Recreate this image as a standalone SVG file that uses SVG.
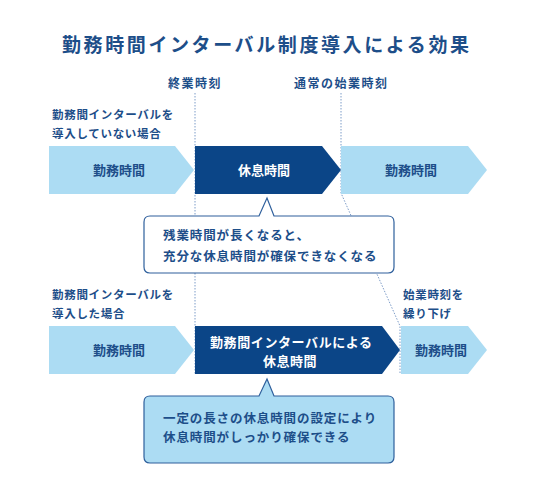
<svg xmlns="http://www.w3.org/2000/svg" width="536" height="501" viewBox="0 0 536 501">
<style>
text{font-family:"Noto Sans CJK JP","Noto Sans",sans-serif;font-weight:700}
.title{font-size:19px;letter-spacing:2.6px;fill:#1d4e89}
.lbl{font-size:12px;letter-spacing:1.5px;fill:#1d4e89}
.row{font-size:11.5px;letter-spacing:0.7px;fill:#1d4e89}
.light{fill:#acdcf3}
.dark{fill:#0b4587}
.lt{font-size:13px;fill:#1d4e89}
.dt{font-size:13px;fill:#ffffff}
.ct{font-size:12.5px;letter-spacing:0.9px;fill:#1d4e89}
.dot{fill:none;stroke:#7d9cc8;stroke-width:1;stroke-dasharray:1.5 1.5}
.call{stroke:#2e5f9c;stroke-width:1.2}
</style>
<rect width="536" height="501" fill="#ffffff"/>
<text class="title" x="62" y="52">勤務時間インターバル制度導入による効果</text>
<text class="lbl" x="168" y="88">終業時刻</text>
<text class="lbl" x="294" y="88">通常の始業時刻</text>
<g id="connectors">
<path class="dot" d="M195,93 V374"/>
<path class="dot" d="M341,93 V193 L400,326 V374"/>
</g>
<g id="label-row1">
<text class="row" x="52" y="119">勤務間インターバルを</text>
<text class="row" x="52" y="138">導入していない場合</text>
</g>
<g id="row1-work1">
<path class="light" d="M49,146 H175 L194,170 L175,194 H49 Z"/>
<text class="lt" x="93" y="175">勤務時間</text>
</g>
<g id="row1-rest">
<path class="dark" d="M195,146 H322 L341,170 L322,194 H195 Z"/>
<text class="dt" x="238" y="175">休息時間</text>
</g>
<g id="row1-work2">
<path class="light" d="M341,146 H468 L487,170 L468,194 H341 L341,170 Z"/>
<text class="lt" x="385" y="175">勤務時間</text>
</g>
<g id="callout1">
<path class="call" fill="#ffffff" d="M150,216 H259 L267,198 L274,216 H388 Q394,216 394,222 V267 Q394,273 388,273 H150 Q144,273 144,267 V222 Q144,216 150,216 Z"/>
<text class="ct" x="163" y="240">残業時間が長くなると、</text>
<text class="ct" x="163" y="261">充分な休息時間が確保できなくなる</text>
</g>
<g id="label-row2">
<text class="row" x="52" y="299">勤務間インターバルを</text>
<text class="row" x="52" y="318">導入した場合</text>
</g>
<g id="label-shift">
<text class="row" x="403" y="299">始業時刻を</text>
<text class="row" x="403" y="318">繰り下げ</text>
</g>
<g id="row2-work1">
<path class="light" d="M49,326 H175 L194,350 L175,374 H49 Z"/>
<text class="lt" x="93" y="355">勤務時間</text>
</g>
<g id="row2-rest">
<path class="dark" d="M195,326 H382 L400,350 L382,374 H195 Z"/>
<text class="dt" x="210" y="347" style="letter-spacing:0.6px">勤務間インターバルによる</text>
<text class="dt" x="263" y="366" style="letter-spacing:0.5px">休息時間</text>
</g>
<g id="row2-work2">
<path class="light" d="M401,326 H468 L487,350 L468,374 H401 Z"/>
<text class="lt" x="415" y="355">勤務時間</text>
</g>
<g id="callout2">
<path class="call" fill="#acdcf3" d="M150,396 H259 L267,379 L274,396 H388 Q394,396 394,402 V457 Q394,463 388,463 H150 Q144,463 144,457 V402 Q144,396 150,396 Z"/>
<text class="ct" x="163" y="423">一定の長さの休息時間の設定により</text>
<text class="ct" x="163" y="442">休息時間がしっかり確保できる</text>
</g>
</svg>
